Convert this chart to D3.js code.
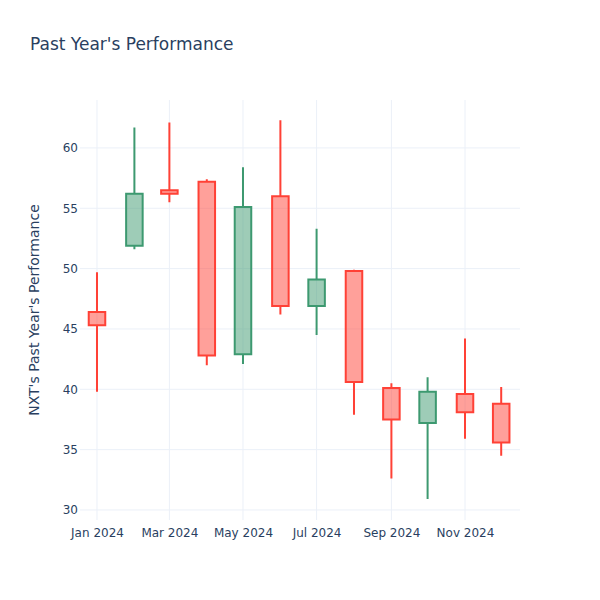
<!DOCTYPE html>
<html>
<head>
<meta charset="utf-8">
<script src="https://cdn.jsdelivr.net/npm/d3@7"></script>
<style>
  body { margin: 0; background: #fff; }
  svg { font-family: "DejaVu Sans", verdana, arial, sans-serif; }
  .grid line { stroke: #EBF0F8; stroke-width: 1; }
  .tick text { fill: #2a3f5f; font-size: 12px; font-family: "DejaVu Sans", verdana, sans-serif; }
</style>
</head>
<body>
<svg id="chart"></svg>
<script>
// monthly candles
const months = ['2024-01-01', '2024-02-01', '2024-03-01', '2024-04-01', '2024-05-01', '2024-06-01',
  '2024-07-01', '2024-08-01', '2024-09-01', '2024-10-01', '2024-11-01', '2024-12-01'];
const open  = [46.4, 51.9, 56.5, 57.2, 42.9, 56.0, 46.9, 49.8, 40.1, 37.2, 39.6, 38.8];
const high  = [49.7, 61.7, 62.1, 57.4, 58.4, 62.3, 53.3, 49.9, 40.5, 41.0, 44.2, 40.2];
const low   = [39.8, 51.6, 55.5, 42.0, 42.1, 46.2, 44.5, 37.9, 32.6, 30.9, 35.9, 34.5];
const close = [45.3, 56.2, 56.2, 42.8, 55.1, 46.9, 49.1, 40.6, 37.5, 39.8, 38.1, 35.6];

const yTicks = [30, 35, 40, 45, 50, 55, 60];
const xTicks = ['2024-01-01', '2024-03-01', '2024-05-01', '2024-07-01', '2024-09-01', '2024-11-01'];

const width = 600;
const height = 600;
const margin = { top: 100, right: 80, bottom: 80, left: 80 };
const day = 864e5;
const parse = d3.utcParse('%Y-%m-%d');

const svg = d3.select('#chart')
  .attr('width', width)
  .attr('height', height);

const x = d3.scaleUtc()
  .domain([new Date(Date.UTC(2023, 11, 17, 22)), new Date(Date.UTC(2024, 11, 16, 14))])
  .range([margin.left, width - margin.right]);

const y = d3.scaleLinear()
  .domain([29.17, 63.97])
  .range([height - margin.bottom, margin.top]);

// grid
svg.append('g')
  .attr('class', 'grid')
  .selectAll('line.v')
  .data(xTicks.map(parse))
  .join('line')
  .attr('x1', d => x(d)).attr('x2', d => x(d))
  .attr('y1', margin.top).attr('y2', height - margin.bottom);

svg.append('g')
  .attr('class', 'grid')
  .selectAll('line.h')
  .data(yTicks)
  .join('line')
  .attr('x1', margin.left).attr('x2', width - margin.right)
  .attr('y1', d => y(d)).attr('y2', d => y(d));

// axes
const xAxis = svg.append('g')
  .attr('transform', 'translate(0,' + (height - margin.bottom) + ')')
  .call(d3.axisBottom(x).tickValues(xTicks.map(parse)).tickFormat(d3.utcFormat('%b %Y')).tickSize(0).tickPadding(8));
xAxis.select('.domain').remove();

const yAxis = svg.append('g')
  .attr('transform', 'translate(' + margin.left + ',0)')
  .call(d3.axisLeft(y).tickValues(yTicks).tickSize(0).tickPadding(2));
yAxis.select('.domain').remove();

// candles
const candles = months.map((m, i) => ({
  date: parse(m), open: open[i], high: high[i], low: low[i], close: close[i]
}));

const halfW = 6.85 * day;

svg.append('g')
  .selectAll('path')
  .data(candles)
  .join('path')
  .attr('d', d => {
    const cx = x(d.date);
    const x0 = x(new Date(+d.date - halfW));
    const x1 = x(new Date(+d.date + halfW));
    const top = y(Math.max(d.open, d.close));
    const bot = y(Math.min(d.open, d.close));
    return 'M' + x0 + ',' + top + 'H' + x1 + 'V' + bot + 'H' + x0 + 'Z'
      + 'M' + cx + ',' + top + 'V' + y(d.high)
      + 'M' + cx + ',' + bot + 'V' + y(d.low);
  })
  .attr('stroke', d => d.close >= d.open ? '#3D9970' : '#FF4136')
  .attr('stroke-width', 2)
  .attr('fill', d => d.close >= d.open ? 'rgba(61,153,112,0.5)' : 'rgba(255,65,54,0.5)');

// titles
svg.append('text')
  .attr('x', 30)
  .attr('y', 50)
  .attr('fill', '#2a3f5f')
  .style('font-size', '17px')
  .text("Past Year's Performance");

svg.append('text')
  .attr('transform', 'translate(39,' + (margin.top + (height - margin.top - margin.bottom) / 2) + ') rotate(-90)')
  .attr('text-anchor', 'middle')
  .attr('fill', '#2a3f5f')
  .style('font-size', '14px')
  .text("NXT's Past Year's Performance");
</script>
</body>
</html>
